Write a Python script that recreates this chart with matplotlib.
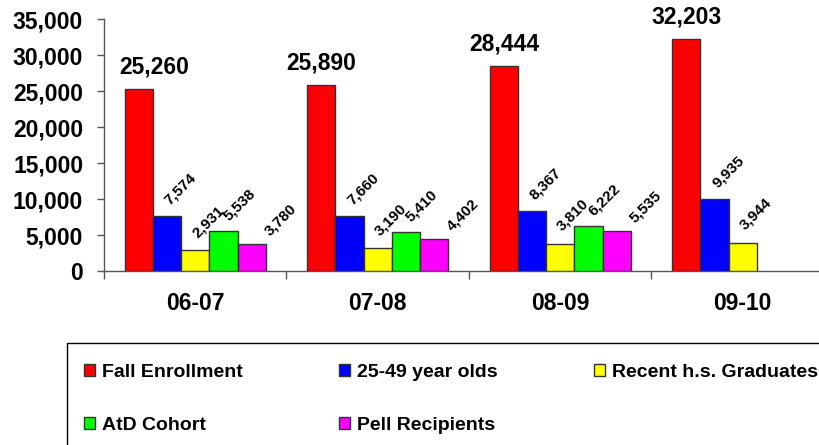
import numpy as np
import matplotlib
matplotlib.use("Agg")
import matplotlib.pyplot as plt
from matplotlib.patches import Patch, Rectangle

plt.rcParams['font.family'] = ['Liberation Sans', 'DejaVu Sans']
plt.rcParams['font.weight'] = 'bold'

# ---- data ----
years = ["06-07", "07-08", "08-09", "09-10"]
series_names = ["Fall Enrollment", "25-49 year olds", "Recent h.s. Graduates",
                "AtD Cohort", "Pell Recipients"]
fall_enrollment = [25260, 25890, 28444, 32203]
age_25_49 = [7574, 7660, 8367, 9935]
recent_hs = [2931, 3190, 3810, 3944]
atd_cohort = [5538, 5410, 6222, None]
pell = [3780, 4402, 5535, None]
y_ticks = [0, 5000, 10000, 15000, 20000, 25000, 30000, 35000]

series_values = [fall_enrollment, age_25_49, recent_hs, atd_cohort, pell]
colors = ["#FF0000", "#0000FF", "#FFFF00", "#00FF00", "#FF00FF"]

# label placement style (pixels)
small_dx = [0, 3, 2, 5, 18]
small_dy = [0, 11, 12, 10, 8]
big_dx = [15, 0, 0, 0]

W, H = 820, 445
PX = 0.72  # points per pixel at 100 dpi
fig = plt.figure(figsize=(W / 100, H / 100), dpi=100)
ax = fig.add_axes([104 / W, 174 / H, 730 / W, 252 / H])

x = np.arange(len(years))
bw = 0.1545
axis_col = "#555555"

for i, (vals, col) in enumerate(zip(series_values, colors)):
    for j, v in enumerate(vals):
        if v is None:
            continue
        xc = x[j] + (i - 2) * bw
        ax.bar(xc, v, width=bw, color=col, edgecolor="#333333", linewidth=1.0, zorder=3)
        label = f"{v:,}"
        if i == 0:
            ax.annotate(label, (xc, v), xytext=(big_dx[j] * PX, 15.5 * PX),
                        textcoords="offset points", ha="center", va="baseline",
                        fontsize=16.5, fontweight="bold")
        else:
            ax.annotate(label, (xc, v), xytext=(small_dx[i] * PX, small_dy[i] * PX),
                        textcoords="offset points", ha="left", va="baseline",
                        rotation=45, rotation_mode="anchor",
                        fontsize=11, fontweight="bold")

ax.set_xlim(-0.5, len(years) - 0.5)
ax.set_ylim(0, 35000)

# y axis
ax.set_yticks(y_ticks)
ax.set_yticklabels([f"{t:,}" for t in y_ticks])
ax.tick_params(axis="y", direction="out", length=5, width=1, color=axis_col,
               pad=10, labelsize=16.5)

# x axis: separator ticks at category boundaries, labels at centres
ax.set_xticks(np.arange(len(years) + 1) - 0.5)
ax.set_xticklabels([])
ax.set_xticks(x, minor=True)
ax.set_xticklabels(years, minor=True)
ax.tick_params(axis="x", which="major", direction="out", length=6, width=1, color=axis_col)
ax.tick_params(axis="x", which="minor", length=0, pad=15, labelsize=16.5)

for s in ["top", "right"]:
    ax.spines[s].set_visible(False)
for s in ["left", "bottom"]:
    ax.spines[s].set_color(axis_col)
    ax.spines[s].set_linewidth(1.0)

for lab in ax.get_xticklabels(minor=True) + ax.get_yticklabels():
    lab.set_fontweight("bold")

# legend (row-major order with 3 columns -> reorder for column filling)
order = [0, 3, 1, 4, 2]
handles = [Patch(facecolor=colors[k], edgecolor="#333333", linewidth=1.0) for k in order]
labels = [series_names[k] for k in order]
leg = fig.legend(handles, labels, ncol=3, loc="upper left",
                 bbox_to_anchor=(84 / W, 1 - 364 / H), borderaxespad=0,
                 frameon=False, prop={"size": 14, "weight": "bold"},
                 handlelength=0.57, handleheight=0.57, handletextpad=0.36,
                 columnspacing=4.95, labelspacing=1.85, borderpad=0.0)

fig.patches.append(Rectangle((66.7 / W, -20 / H), (W + 20 - 66.7) / W, (445 - 343 + 20) / H,
                             transform=fig.transFigure, fill=False,
                             edgecolor="black", linewidth=1.0))

fig.savefig("out.png", dpi=100)
